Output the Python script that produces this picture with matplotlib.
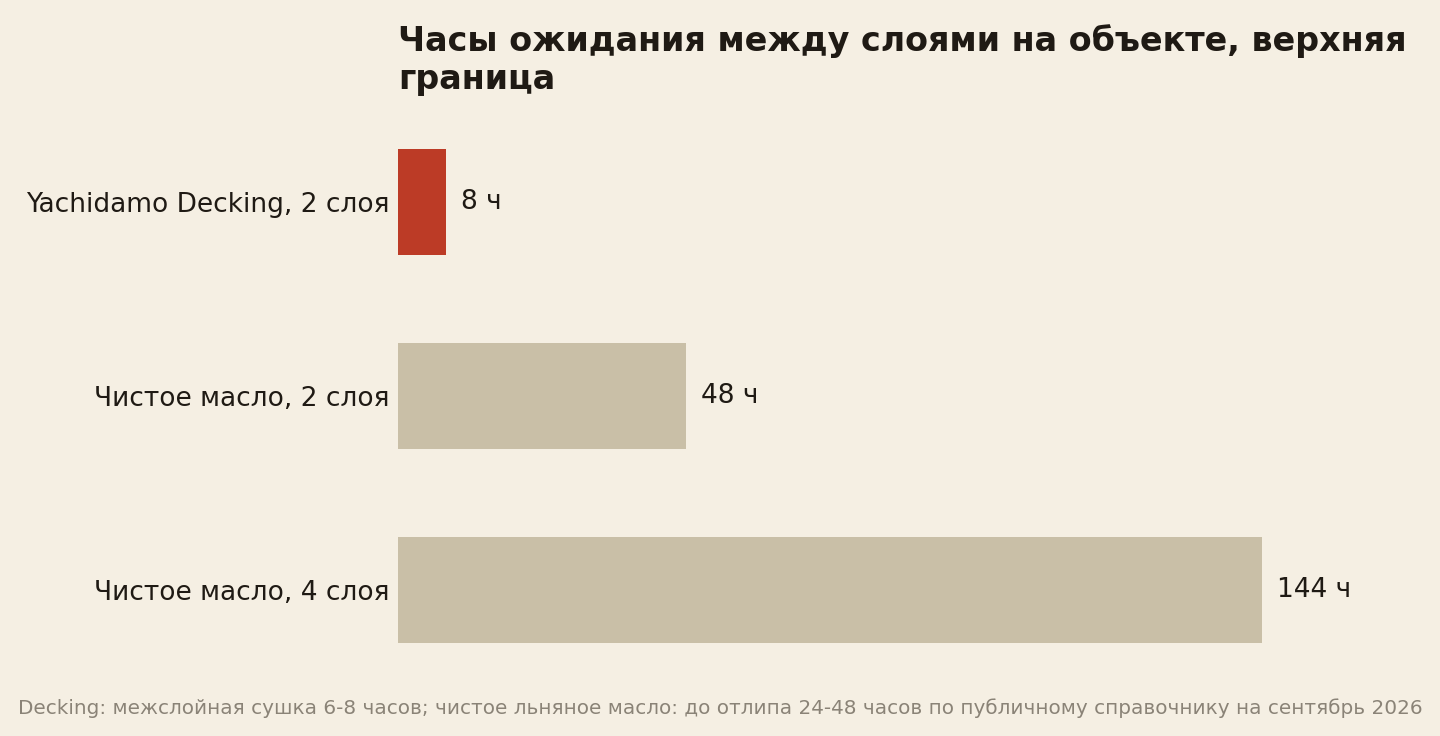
import matplotlib.pyplot as plt

categories = ["Yachidamo Decking, 2 слоя", "Чистое масло, 2 слоя", "Чистое масло, 4 слоя"]
hours = [8, 48, 144]
value_labels = ["8 ч", "48 ч", "144 ч"]
title = "Часы ожидания между слоями на объекте, верхняя\nграница"
note = ("Decking: межслойная сушка 6-8 часов; чистое льняное масло: до отлипа 24-48 часов "
        "по публичному справочнику на сентябрь 2026")

bg = "#F5EFE3"
colors = ["#BC3B26", "#C9BFA7", "#C9BFA7"]
text_color = "#1F1A14"

W, H = 1440, 736
fig = plt.figure(figsize=(W / 100, H / 100), dpi=100, facecolor=bg)
# axes placed in pixels: x=0 at 398px, 6 px per hour
left, right = 398, 1420
top, bottom = 105, 687
ax = fig.add_axes([left / W, 1 - bottom / H, (right - left) / W, (bottom - top) / H])
ax.set_facecolor(bg)

ypos = list(range(len(categories)))
ax.barh(ypos, hours, height=0.55, color=colors)
ax.set_xlim(0, (right - left) / 6)
ax.set_ylim(len(categories) - 0.5, -0.5)

for y, v, lab in zip(ypos, hours, value_labels):
    ax.text(v + 2.5, y, lab, va="center", ha="left", fontsize=19, color=text_color)

ax.set_yticks(ypos)
ax.set_yticklabels(categories, fontsize=19, color=text_color)
ax.tick_params(axis="y", length=0, pad=6)
ax.set_xticks([])
for s in ax.spines.values():
    s.set_visible(False)

fig.text(left / W, 1 - 24 / H, title, ha="left", va="top", fontsize=24,
         fontweight="bold", color=text_color, linespacing=1.2)
fig.text(0.5, 1 - 708 / H, note, ha="center", va="center", fontsize=14.4, color="#8A8377")

fig.savefig("out.png", dpi=100, facecolor=bg)
